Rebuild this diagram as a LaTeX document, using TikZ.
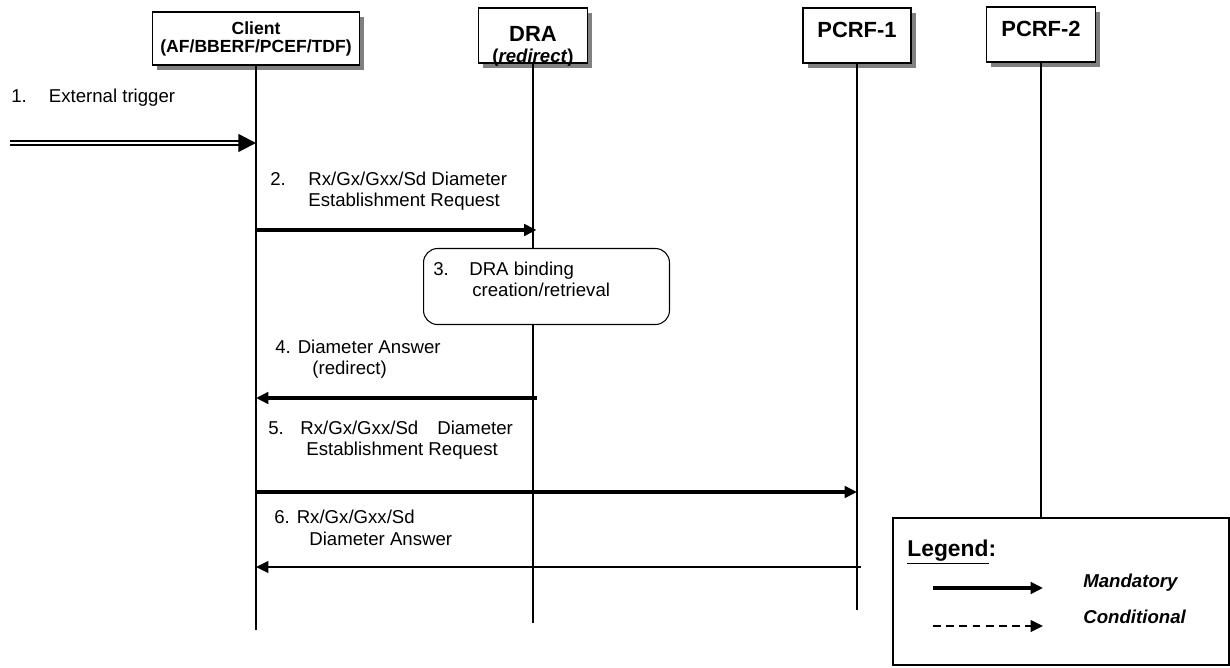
\documentclass[tikz,border=0pt]{standalone}
\usepackage{fontspec}
\setmainfont{Liberation Sans}
\usepackage{tikz}
\usetikzlibrary{arrows.meta, positioning, shadows}
\definecolor{shadowgray}{RGB}{128,128,128}
\tikzset{
  entity/.style={rectangle, draw=black, fill=white, line width=0.8pt,
    align=center, font=\fontsize{12.5}{12}\selectfont\bfseries, inner sep=2pt,
    drop shadow={shadow xshift=2.6pt, shadow yshift=-2.6pt, fill=shadowgray, opacity=1}},
  lifeline/.style={line width=0.6pt, color=black},
  msg/.style={-{Triangle[length=7pt, width=6.5pt]}, line width=2.2pt},
  trigger/.style={-{Triangle[length=10pt, width=10pt]}, double, double distance=1.3pt, line width=1.3pt},
  label/.style={anchor=base west, inner sep=0pt, align=left, font=\fontsize{10.6}{12}\selectfont},
  legendtext/.style={anchor=base west, inner sep=0pt, font=\fontsize{10.6}{12}\selectfont\bfseries\itshape}
}

\begin{document}
\begin{tikzpicture}[x=0.02cm, y=-0.02cm]
  \useasboundingbox (0,0) rectangle (1230,668);

  % entities
  \node[entity, minimum width=4.14cm, minimum height=1.06cm, font=\fontsize{10}{10.2}\selectfont\bfseries,
    text height=17.4pt, text depth=1pt] (client) at (256,38.5)
    {Client\\(AF/BBERF/PCEF/TDF)};
  \node[entity, minimum width=2.18cm, minimum height=1.1cm, inner ysep=0pt,
    text height=30.6pt, text depth=0pt] (dra) at (533,35.5)
    {DRA\\{\fontsize{10.6}{12}\selectfont(\textit{redirect})}};
  \node[entity, minimum width=2.16cm, minimum height=1.1cm,
    text height=9pt, text depth=6.5pt] (pcrf1) at (857,35.5) {PCRF-1};
  \node[entity, minimum width=2.18cm, minimum height=1.1cm,
    text height=9pt, text depth=6.5pt] (pcrf2) at (1041,34.5) {PCRF-2};

  % legend
  \node[rectangle, draw=black, line width=1.1pt, minimum width=6.72cm, minimum height=2.94cm, anchor=north west] (legend) at (892,517) {};

  % lifelines
  \coordinate (clientend) at (client.south |- 0,630);
  \coordinate (draend) at (dra.south |- 0,623);
  \coordinate (pcrf1end) at (pcrf1.south |- 0,610);
  \draw[lifeline] (client.south) -- (clientend);
  \draw[lifeline] (dra.south) -- (draend);
  \draw[lifeline] (pcrf1.south) -- (pcrf1end);
  \draw[lifeline] (pcrf2.south) -- (pcrf2.south |- legend.north);

  % 1. external trigger
  \node[label] (t1) at (11,103) {1.\hspace{0.44cm}External trigger};
  \coordinate (trigstart) at (10,143);
  \coordinate (trigend) at (client.south |- trigstart);
  \draw[trigger] (trigstart) -- (trigend);

  % 2. request to DRA
  \node[label] (t2) at (270,207) {\makebox[0.76cm][l]{2.}Rx/Gx/Gxx/Sd Diameter\\\hspace*{0.76cm}Establishment Request};
  \coordinate (m2a) at (client.south |- 0,230);
  \coordinate (m2b) at (dra.south |- 0,230);
  \draw[msg] (m2a) -- ([xshift=2pt]m2b);

  % 3. binding
  \node[rectangle, draw=black, line width=0.6pt, rounded corners=8pt, fill=white, minimum width=4.92cm, minimum height=1.52cm, anchor=north west] (bind) at (423,248) {};
  \node[label] (t3) at (433,297) {\makebox[0.72cm][l]{3.}DRA binding\\\hspace*{0.78cm}creation/retrieval};

  % 4. answer (redirect)
  \node[label] (t4) at (275,375) {4. Diameter Answer\\\hspace*{0.74cm}(redirect)};
  \coordinate (m4a) at (dra.south |- 0,398);
  \coordinate (m4b) at (client.south |- 0,398);
  \draw[msg] ([xshift=2pt]m4a) -- (m4b);

  % 5. request to PCRF-1
  \node[label] (t5) at (268,456) {\makebox[0.64cm][l]{5.}Rx/Gx/Gxx/Sd\hspace{0.38cm}Diameter\\\hspace*{0.76cm}Establishment Request};
  \coordinate (m5a) at (client.south |- 0,492);
  \coordinate (m5b) at (pcrf1.south |- 0,492);
  \draw[msg] (m5a) -- (m5b);

  % 6. answer from PCRF-1
  \node[label] (t6) at (274,545) {6. Rx/Gx/Gxx/Sd\\\hspace*{0.7cm}Diameter Answer};
  \coordinate (m6a) at (pcrf1.south |- 0,567);
  \coordinate (m6b) at (client.south |- 0,567);
  \draw[msg, line width=1.6pt] ([xshift=2pt]m6a) -- (m6b);

  % legend contents
  \node[anchor=base west, inner sep=0pt, font=\fontsize{13}{15}\selectfont\bfseries] (lgtitle) at (907,556) {\underline{Legend}:};
  \coordinate (mandA) at (933,588);
  \coordinate (mandB) at (1043,588);
  \coordinate (condA) at (933,626);
  \coordinate (condB) at (1043,626);
  \draw[msg] (mandA) -- (mandB);
  \draw[-{Triangle[length=7pt, width=6.5pt]}, line width=1.2pt, dash pattern=on 4.5pt off 3pt] (condA) -- (condB);
  \node[legendtext] (lgmand) at (1083,587) {Mandatory};
  \node[legendtext] (lgcond) at (1083,623) {Conditional};

\end{tikzpicture}
\end{document}
